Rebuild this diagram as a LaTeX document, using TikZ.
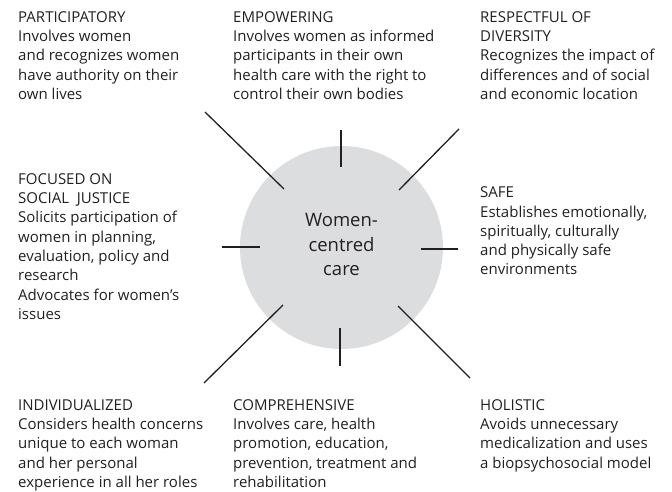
\documentclass[tikz,border=0pt]{standalone}
\usepackage{fontspec}
\setmainfont{Open Sans}
\definecolor{ink}{HTML}{231F20}
\definecolor{hubgray}{HTML}{DCDDDF}
\begin{document}
\begin{tikzpicture}[x=1pt,y=-1pt,
  desc/.style={anchor=north west, inner sep=0pt, align=left, text=ink,
    font=\fontsize{15}{19.3}\selectfont},
  spoke/.style={draw=ink, line width=1.3pt},
  hubstyle/.style={circle, fill=hubgray, minimum size=203pt, inner sep=0pt}]
\useasboundingbox (0,0) rectangle (672,492);
% hub
\node[hubstyle] (hub) at (341.5,247.5) {};
\node[inner sep=0pt, align=center, text=ink, font=\fontsize{18.5}{24.5}\selectfont] (hubtext) at (341.5,244.5) {Women-\\centred\\care};
% spokes
\coordinate (o1) at (205,112); \coordinate (i1) at (284,189);
\coordinate (o2) at (341,130); \coordinate (i2) at (341,167);
\coordinate (o3) at (459,129); \coordinate (i3) at (399,190);
\coordinate (o4) at (222,247); \coordinate (i4) at (260,247);
\coordinate (o5) at (458,249); \coordinate (i5) at (421,249);
\coordinate (o6) at (204,383); \coordinate (i6) at (283,305);
\coordinate (o7) at (340,366); \coordinate (i7) at (340,328);
\coordinate (o8) at (470,378); \coordinate (i8) at (398,306);
\foreach \k in {1,...,8} { \draw[spoke] (o\k) -- (i\k); }
% descriptions
\node[desc] (participatory) at (18,11.2) {PARTICIPATORY\\Involves women\\and recognizes women\\have authority on their\\own lives};
\node[desc] (empowering) at (233,11.2) {EMPOWERING\\Involves women as informed\\participants in their own\\health care with the right to\\control their own bodies};
\node[desc] (respectful) at (480,11.2) {RESPECTFUL OF\\DIVERSITY\\Recognizes the impact of\\differences and of social\\and economic location};
\node[desc] (focused) at (18,173.2) {FOCUSED ON\\SOCIAL\ \ JUSTICE\\Solicits participation of\\women in planning,\\evaluation, policy and\\research\\Advocates for women’s\\issues};
\node[desc] (safe) at (480,186.7) {SAFE\\Establishes emotionally,\\spiritually, culturally\\and physically safe\\environments};
\node[desc] (individualized) at (18,399.2) {INDIVIDUALIZED\\Considers health concerns\\unique to each woman\\and her personal\\experience in all her roles};
\node[desc] (comprehensive) at (233,399.2) {COMPREHENSIVE\\Involves care, health\\promotion, education,\\prevention, treatment and\\rehabilitation};
\node[desc] (holistic) at (480,399.2) {HOLISTIC\\Avoids unnecessary\\medicalization and uses\\a biopsychosocial model};
\end{tikzpicture}
\end{document}
